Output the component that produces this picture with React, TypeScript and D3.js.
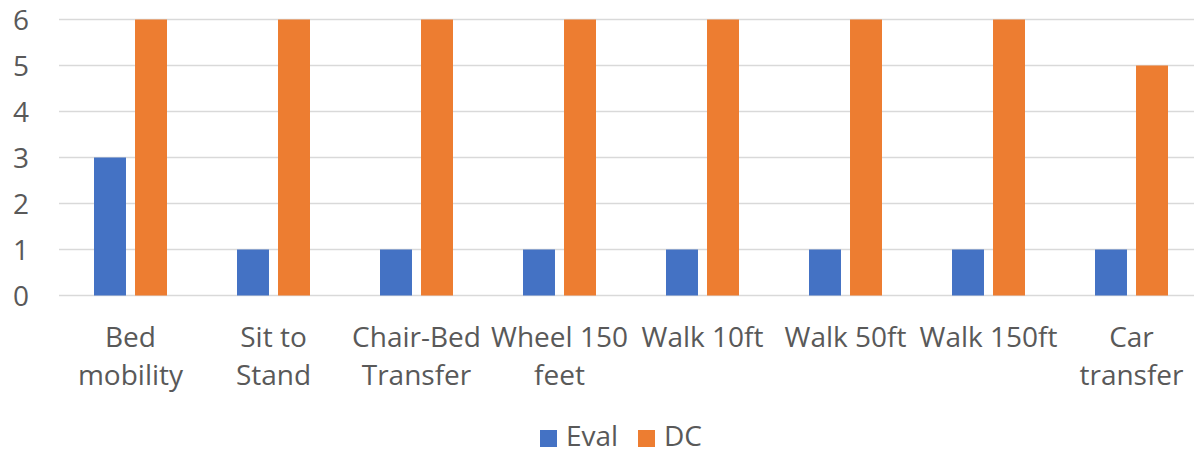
import React from "react";
import * as d3 from "d3";

const categories: string[][] = [
  ["Bed", "mobility"],
  ["Sit to", "Stand"],
  ["Chair-Bed", "Transfer"],
  ["Wheel 150", "feet"],
  ["Walk 10ft"],
  ["Walk 50ft"],
  ["Walk 150ft"],
  ["Car", "transfer"],
];
const seriesNames = ["Eval", "DC"];
const evalValues = [3, 1, 1, 1, 1, 1, 1, 1];
const dcValues = [6, 6, 6, 6, 6, 6, 6, 5];
const yTicks = [0, 1, 2, 3, 4, 5, 6];
const colors = ["#4472C4", "#ED7D31"];

const W = 1194;
const H = 454;
const FONT = "'Open Sans', sans-serif";
const TEXT = "#595959";

export default function App() {
  const left = 59;
  const step = 143;
  const x0 = d3
    .scaleBand<number>()
    .domain(categories.map((_, i) => i))
    .range([left, left + step * categories.length])
    .paddingInner(0.4895)
    .paddingOuter(0.4895 / 2);
  const x1 = d3
    .scaleBand<string>()
    .domain(seriesNames)
    .range([0, x0.bandwidth()])
    .paddingInner(0.22)
    .paddingOuter(0);
  const y = d3.scaleLinear().domain([0, 6]).range([295.5, 19.5]);
  const series = [evalValues, dcValues];

  return (
    <svg
      width={W}
      height={H}
      style={{ position: "absolute", left: 0, top: 0, background: "#fff" }}
      fontFamily={FONT}
    >
      <rect x={0} y={0} width={W} height={H} fill="#fff" />
      {yTicks.map((t) => (
        <g key={t}>
          <line x1={left} x2={W} y1={y(t)} y2={y(t)} stroke="#D9D9D9" strokeWidth={1.5} />
          <text x={29} y={y(t)} dy="0.36em" textAnchor="end" fontSize={28} fill={TEXT}>
            {t}
          </text>
        </g>
      ))}
      {categories.map((_, i) =>
        series.map((vals, s) => (
          <rect
            key={`${i}-${s}`}
            x={(x0(i) as number) + (x1(seriesNames[s]) as number)}
            y={y(vals[i])}
            width={x1.bandwidth()}
            height={y(0) - y(vals[i])}
            fill={colors[s]}
          />
        ))
      )}
      {categories.map((lines, i) => {
        const cx = (x0(i) as number) + x0.bandwidth() / 2;
        return (
          <text key={i} textAnchor="middle" fontSize={28} fill={TEXT}>
            {lines.map((ln, j) => (
              <tspan key={j} x={cx} y={347 + j * 38}>
                {ln}
              </tspan>
            ))}
          </text>
        );
      })}
      <g>
        <rect x={540} y={430} width={17} height={17} fill={colors[0]} />
        <text x={566} y={446} fontSize={28} fill={TEXT}>
          {seriesNames[0]}
        </text>
        <rect x={638} y={430} width={17} height={17} fill={colors[1]} />
        <text x={664} y={446} fontSize={28} fill={TEXT}>
          {seriesNames[1]}
        </text>
      </g>
    </svg>
  );
}
